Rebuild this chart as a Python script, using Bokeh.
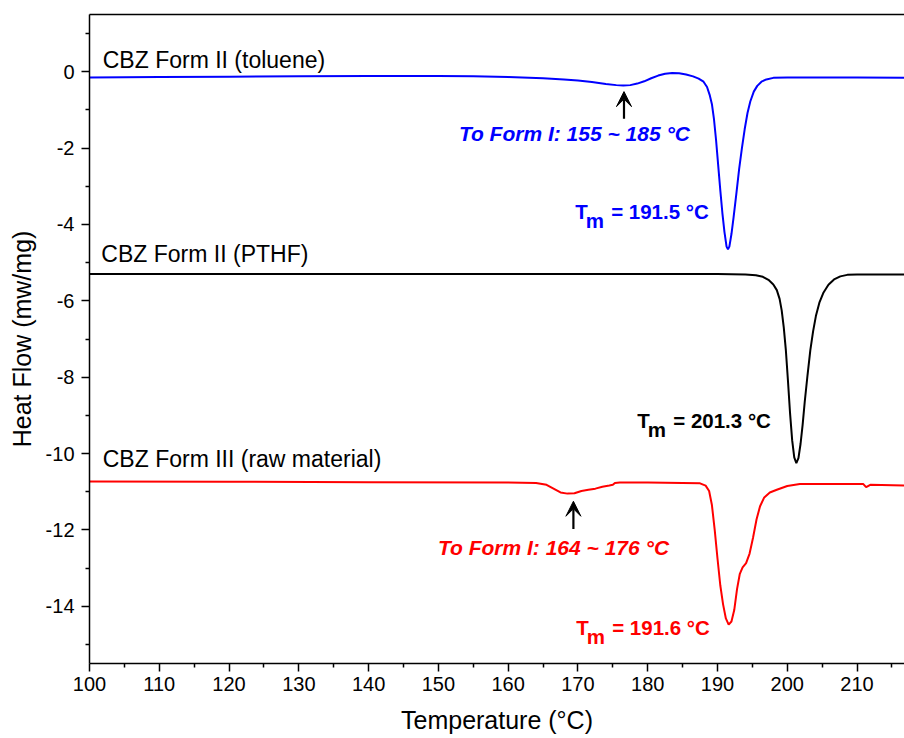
from bokeh.plotting import figure
from bokeh.models import (ColumnDataSource, Range1d, FixedTicker, LinearAxis,
                          Arrow, VeeHead)
from bokeh.core.properties import value
from bokeh.embed import file_html
from bokeh.resources import INLINE

# DSC traces (temperature in °C, heat flow in mW/mg)
toluene_t = [100, 110, 120, 130, 140, 150, 155, 160, 165, 168, 170, 172, 174,
             175.5, 176.5, 177.5, 178.5, 179.5, 180.5, 181.5, 182.5, 183.5,
             184.5, 185.5, 186.5, 187.3, 188.0, 188.5, 188.9, 189.2, 189.5,
             189.8, 190.1, 190.4, 190.7, 191.0, 191.3, 191.5, 191.7, 192.0,
             192.3, 192.7, 193.1, 193.5, 193.9, 194.3, 194.7, 195.2, 195.7,
             196.3, 197.0, 198.0, 200, 210, 217]
toluene_hf = [-0.15, -0.14, -0.13, -0.12, -0.11, -0.11, -0.12, -0.14, -0.17,
              -0.20, -0.23, -0.27, -0.32, -0.35, -0.36, -0.35, -0.31, -0.25,
              -0.17, -0.10, -0.05, -0.03, -0.04, -0.07, -0.12, -0.18, -0.26,
              -0.40, -0.62, -0.85, -1.25, -1.80, -2.45, -3.10, -3.70, -4.20,
              -4.58, -4.65, -4.58, -4.25, -3.82, -3.20, -2.55, -2.00, -1.50,
              -1.08, -0.78, -0.52, -0.37, -0.26, -0.20, -0.16, -0.15, -0.15,
              -0.16]

pthf_t = [100, 120, 140, 160, 180, 190, 194, 195.5, 196.5, 197.3, 198.0,
          198.5, 198.9, 199.2, 199.5, 199.8, 200.1, 200.4, 200.7, 201.0,
          201.3, 201.6, 201.9, 202.2, 202.5, 202.9, 203.3, 203.7, 204.1,
          204.6, 205.2, 205.9, 206.7, 207.6, 208.6, 210, 217]
pthf_hf = [-5.30, -5.30, -5.30, -5.30, -5.30, -5.30, -5.31, -5.33, -5.37,
           -5.45, -5.57, -5.72, -5.95, -6.25, -6.70, -7.30, -8.10, -8.95,
           -9.65, -10.10, -10.25, -10.12, -9.75, -9.25, -8.65, -7.95, -7.30,
           -6.80, -6.40, -6.05, -5.78, -5.58, -5.44, -5.36, -5.32, -5.31,
           -5.31]

raw_t = [100, 120, 140, 160, 164, 165.5, 166.5, 167.5, 168.5, 169.5, 170.5,
         171.5, 172.5, 173.5, 174.5, 175.0, 175.3, 176, 180, 185, 187.5,
         188.3, 188.8, 189.2, 189.6, 190.0, 190.4, 190.8, 191.2, 191.6,
         192.0, 192.4, 192.8, 193.2, 193.6, 194.1, 194.6, 195.1, 195.6,
         196.1, 196.7, 197.5, 198.5, 200.0, 201.8, 205, 210.9, 211.3, 211.9,
         217]
raw_hf = [-10.73, -10.74, -10.75, -10.76, -10.77, -10.82, -10.92, -11.02,
          -11.05, -11.04, -10.98, -10.95, -10.92, -10.87, -10.84, -10.82,
          -10.77, -10.76, -10.76, -10.77, -10.78, -10.84, -10.98, -11.35,
          -12.00, -12.75, -13.45, -13.95, -14.32, -14.48, -14.40, -14.10,
          -13.55, -13.15, -12.98, -12.87, -12.62, -12.20, -11.72, -11.38,
          -11.15, -11.02, -10.95, -10.85, -10.80, -10.80, -10.80, -10.88,
          -10.82, -10.84]

series_colors = ["#0000FF", "#000000", "#FF0000"]

# sample names written above each trace
sample_names = ["CBZ Form II (toluene)", "CBZ Form II (PTHF)",
                "CBZ Form III (raw material)"]
sample_x = [101.9, 101.7, 101.9]
sample_y = [0.32, -4.78, -10.15]

# solid-solid transitions
transition_text = ["To Form I: 155 ~ 185 °C", "To Form I: 164 ~ 176 °C"]
transition_x = [169.5, 166.5]
transition_y = [-1.62, -12.45]
transition_colors = ["#0000FF", "#FF0000"]
arrow_x = [176.6, 169.35]
arrow_tail = [-1.23, -11.98]
arrow_tip = [-0.52, -11.25]

# melting points
melt_values = ["191.5", "201.3", "191.6"]
melt_x = [169.6, 178.5, 169.75]
melt_y = [-3.67, -9.14, -14.56]

x_major = list(range(100, 211, 10))
x_minor = list(range(105, 216, 10))
y_major = [0, -2, -4, -6, -8, -10, -12, -14]
y_minor = [1, -1, -3, -5, -7, -9, -11, -13, -15]

FONT = "Liberation Sans"

p = figure(width=904, height=738, output_backend="svg", toolbar_location=None,
           x_range=Range1d(100, 216.8), y_range=Range1d(-15.5, 1.5),
           min_border_left=89, min_border_right=0, min_border_top=14,
           min_border_bottom=75)
p.outline_line_color = None
p.grid.visible = False
p.background_fill_color = "white"
p.border_fill_color = "white"

for t, hf, c in zip([toluene_t, pthf_t, raw_t], [toluene_hf, pthf_hf, raw_hf],
                    series_colors):
    p.line(t, hf, line_color=c, line_width=2)

# axes styling
for ax in (p.xaxis[0], p.yaxis[0]):
    ax.axis_line_width = 1.5
    ax.major_tick_line_width = 1.5
    ax.minor_tick_line_width = 1.5
    ax.major_tick_in = 0
    ax.major_tick_out = 8
    ax.minor_tick_in = 0
    ax.minor_tick_out = 4
    ax.major_label_text_font = FONT
    ax.major_label_text_font_size = "20px"
    ax.major_label_text_color = "black"
    ax.axis_label_text_font = FONT
    ax.axis_label_text_font_size = "25px"
    ax.axis_label_text_font_style = "normal"
    ax.axis_label_text_color = "black"

p.xaxis[0].ticker = FixedTicker(ticks=x_major, minor_ticks=x_minor)
p.yaxis[0].ticker = FixedTicker(ticks=y_major, minor_ticks=y_minor)
p.yaxis[0].major_label_overrides = {v: str(v) for v in y_major}
p.xaxis[0].axis_label = "Temperature (°C)"
p.yaxis[0].axis_label = "Heat Flow (mw/mg)"
p.xaxis[0].major_label_standoff = 5
p.yaxis[0].major_label_standoff = 7
p.xaxis[0].axis_label_standoff = 12
p.yaxis[0].axis_label_standoff = 7

# top frame line
top = LinearAxis(ticker=FixedTicker(ticks=[]), axis_line_width=1.5,
                 major_tick_line_color=None, minor_tick_line_color=None,
                 major_label_text_font_size="0px", major_label_standoff=0,
                 major_tick_out=0, minor_tick_out=0)
p.add_layout(top, "above")

# sample names
p.text(x=sample_x, y=sample_y, text=sample_names, text_color="black",
       text_font=value(FONT), text_font_size="23px",
       text_baseline="alphabetic", text_align="left")

# transition notes with arrows
p.text(x=transition_x, y=transition_y, text=transition_text,
       text_color=transition_colors, text_font=value(FONT),
       text_font_size="21px", text_font_style="bold italic",
       text_baseline="alphabetic", text_align="center")
arrows = ColumnDataSource(dict(x=arrow_x, y0=arrow_tail, y1=arrow_tip))
p.add_layout(Arrow(x_start="x", y_start="y0", x_end="x", y_end="y1",
                   source=arrows, line_color="black", line_width=2.2,
                   end=VeeHead(size=15, fill_color="black",
                               line_color="black", line_width=1)))

# melting point labels: T, subscript m, then the value
melt_text = ["= " + v + " °C" for v in melt_values]
common = dict(text_font=value(FONT), text_font_size="20.5px",
              text_font_style="bold", text_baseline="alphabetic",
              text_align="left", text_color=series_colors)
p.text(x=melt_x, y=melt_y, text=["T"] * 3, **common)
p.text(x=melt_x, y=melt_y, text=["m"] * 3, x_offset=10.5, y_offset=9, **common)
p.text(x=melt_x, y=melt_y, text=melt_text, x_offset=36, **common)

open("out.html", "w").write(file_html(p, INLINE))
